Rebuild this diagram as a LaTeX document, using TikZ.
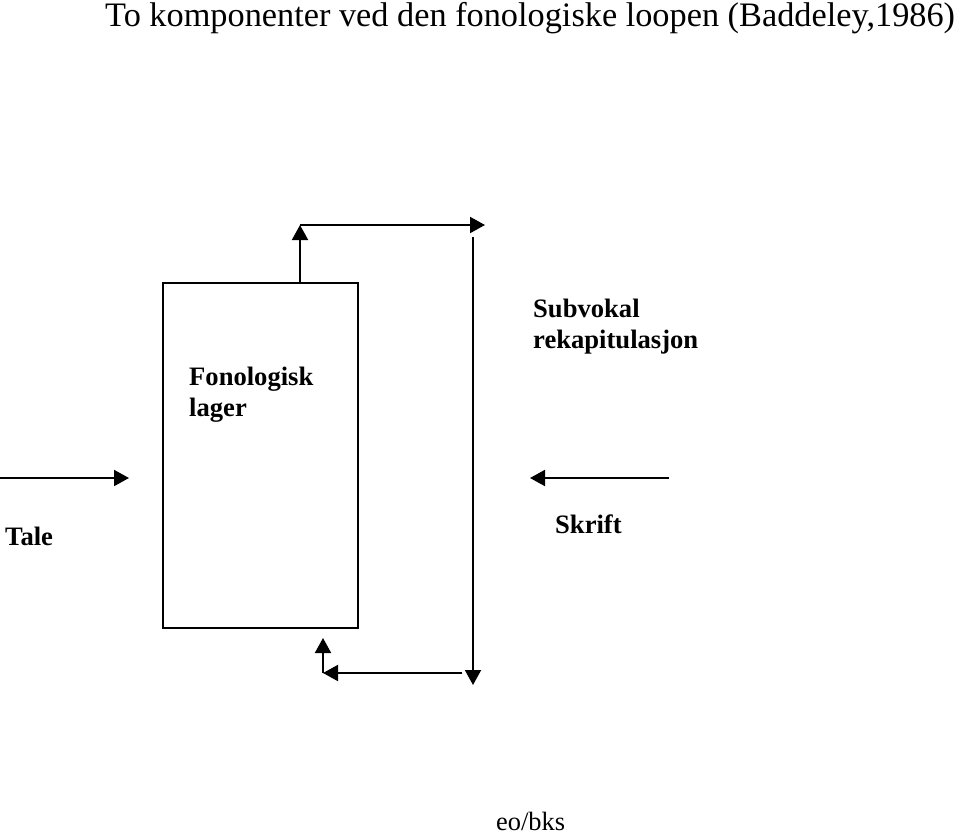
\documentclass[tikz,border=0pt]{standalone}
\usepackage{fontspec}
\setmainfont{Liberation Serif}
\usetikzlibrary{arrows.meta}
\tikzset{
  lbl/.style={inner sep=0pt, anchor=base west, font=\fontsize{26.6}{31}\selectfont\bfseries},
  plain/.style={inner sep=0pt, anchor=base west, font=\fontsize{26.4}{31}\selectfont},
  ttl/.style={inner sep=0pt, anchor=base west, font=\fontsize{34.3}{40}\selectfont},
  arr/.style={line width=2pt, -{Triangle[length=15pt,width=16pt]}},
  boxst/.style={draw, line width=2pt, minimum width=195pt, minimum height=345pt, inner sep=0pt}
}
\begin{document}
\begin{tikzpicture}[x=1pt,y=-1pt]
\useasboundingbox (0,0) rectangle (960,835);
% title
\node[ttl] (title) at (105,26) {To komponenter ved den fonologiske loopen (Baddeley,1986)};
% box
\node[boxst] (box) at (260.5,455.5) {};
\node[lbl] (fon1) at (189,385) {Fonologisk};
\node[lbl] (fon2) at (189,416) {lager};
% labels
\node[lbl] (sub1) at (533,317) {Subvokal};
\node[lbl] (sub2) at (533,348) {rekapitulasjon};
\node[lbl] (tale) at (5,545) {Tale};
\node[lbl] (skrift) at (555,533) {Skrift};
\node[plain] (eo) at (496,830) {eo/bks};
% coordinates
\coordinate (boxtop) at (300,283);
\coordinate (up1) at (300,225);
\coordinate (topL) at (300,225);
\coordinate (topR) at (485,225);
\coordinate (rvTop) at (473,237);
\coordinate (rvBot) at (473,685);
\coordinate (botR) at (462,673);
\coordinate (botL) at (323,673);
\coordinate (botUp) at (323,638);
\coordinate (taleS) at (0,478);
\coordinate (taleE) at (129,478);
\coordinate (skrS) at (669,478);
\coordinate (skrE) at (530,478);
% connectors
\draw[arr] (boxtop) -- (up1);
\draw[arr] (topL) -- (topR);
\draw[arr] (rvTop) -- (rvBot);
\draw[arr] (botR) -- (botL);
\draw[arr] (botL) -- (botUp);
\draw[arr] (taleS) -- (taleE);
\draw[arr] (skrS) -- (skrE);
\end{tikzpicture}
\end{document}
